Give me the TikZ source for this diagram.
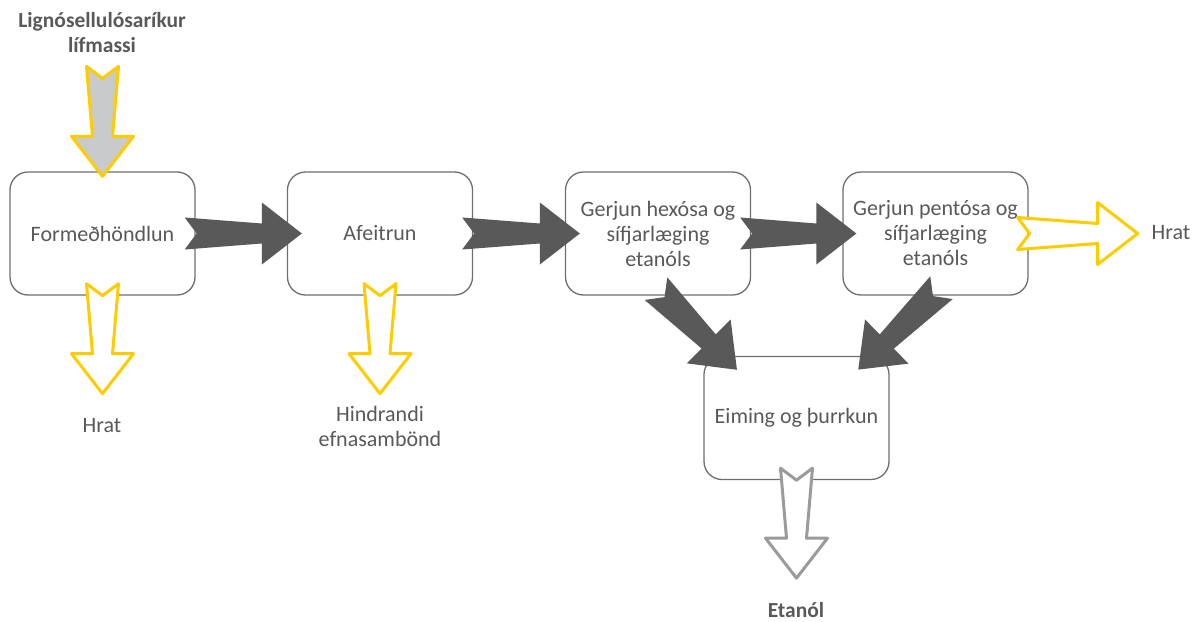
\documentclass[tikz,border=0pt]{standalone}
\usepackage{fontspec}
\setmainfont{Carlito}
\usepackage{tikz}
\usetikzlibrary{calc}

\definecolor{textgray}{HTML}{595959}
\definecolor{boxgray}{HTML}{6E6E6E}
\definecolor{darkfill}{HTML}{595959}
\definecolor{gold}{HTML}{FFCC00}
\definecolor{lightfill}{HTML}{C8CACC}
\definecolor{outgray}{HTML}{9B9B9B}

% fat notched arrow from #2 (tail) to #3 (tip)
\newcommand{\blockarrow}[3][]{%
  \path let \p1=(#2), \p2=(#3) in \pgfextra{%
    \pgfmathsetmacro\barang{atan2(\y2-\y1,\x2-\x1)}%
    \pgfmathsetmacro\barlen{veclen(\x2-\x1,\y2-\y1)}%
    \xdef\barang{\barang}\xdef\barlen{\barlen}};
  \draw[#1,shift={(#2)},rotate=\barang]
    (0,16) -- (\barlen-40,10) -- (\barlen-40,31) -- (\barlen,0)
    -- (\barlen-40,-31) -- (\barlen-40,-10) -- (0,-16) -- (12,0) -- cycle;
}

\begin{document}
\begin{tikzpicture}[x=1pt,y=-1pt,
    box/.style={draw=boxgray,line width=1.3pt,rounded corners=18pt,
      minimum width=185pt,minimum height=123pt,inner sep=0pt,
      text=textgray,align=center,font=\fontsize{22}{25}\selectfont},
    lbl/.style={text=textgray,align=center,font=\fontsize{22}{25}\selectfont},
    boldlbl/.style={text=textgray,align=center,font=\fontsize{21.5}{25}\selectfont\bfseries},
    darkarrow/.style={fill=darkfill,draw=none},
    goldarrow/.style={fill=white,draw=gold,line width=3pt,line join=round},
    feedarrow/.style={fill=lightfill,draw=gold,line width=3pt,line join=round},
    productarrow/.style={fill=white,draw=outgray,line width=3pt,line join=round}]
        % \draw[help lines,step=100] (0,0) grid (1199,621);
        \useasboundingbox (0,0) rectangle (1199,621);

        \node (form) [box] at (102.5,233.5) {Formeðhöndlun};
        \node (afe) [box] at (380,233.5) {Afeitrun};
        \node (hex) [box] at (658,233.5) {Gerjun hexósa og\\sífjarlæging\\etanóls};
        \node (pen) [box] at (935.5,233.5) {Gerjun pentósa og\\sífjarlæging\\etanóls};
        \node (eim) [box] at (796.5,418) {Eiming og þurrkun};

        \node (bio) [boldlbl] at (102,33) {Lignósellulósaríkur\\lífmassi};
        \node (hrat1) [lbl] at (102,426) {Hrat};
        \node (hind) [lbl] at (380,426) {Hindrandi\\efnasambönd};
        \node (hrat2) [lbl] at (1171,233) {Hrat};
        \node (etanol) [boldlbl] at (796,610) {Etanól};

        % biomass into pretreatment
        \blockarrow[feedarrow]{$(form.north)+(0,-105)$}{$(form.north)+(0,5)$}

        % main line
        \blockarrow[darkarrow]{$(form.east)+(-11,0)$}{$(afe.west)+(15,0)$}
        \blockarrow[darkarrow]{$(afe.east)+(-11,0)$}{$(hex.west)+(15,0)$}
        \blockarrow[darkarrow]{$(hex.east)+(-11,0)$}{$(pen.west)+(14,0)$}

        % fermentation to distillation
        \blockarrow[darkarrow]{$(hex.south)+(-2,-7)$}{$(eim.north)+(-59.5,14)$}
        \blockarrow[darkarrow]{$(pen.south)+(6,-8)$}{$(eim.north)+(61.5,14)$}

        % side streams
        \blockarrow[goldarrow]{$(form.south)+(0,-12)$}{$(form.south)+(0,98)$}
        \blockarrow[goldarrow]{$(afe.south)+(0,-12)$}{$(afe.south)+(0,98)$}
        \blockarrow[goldarrow]{$(pen.east)+(-11,0)$}{$(pen.east)+(109,0)$}

        % product
        \blockarrow[productarrow]{$(eim.south)+(0,-12)$}{$(eim.south)+(0,98)$}

      \end{tikzpicture}
\end{document}
